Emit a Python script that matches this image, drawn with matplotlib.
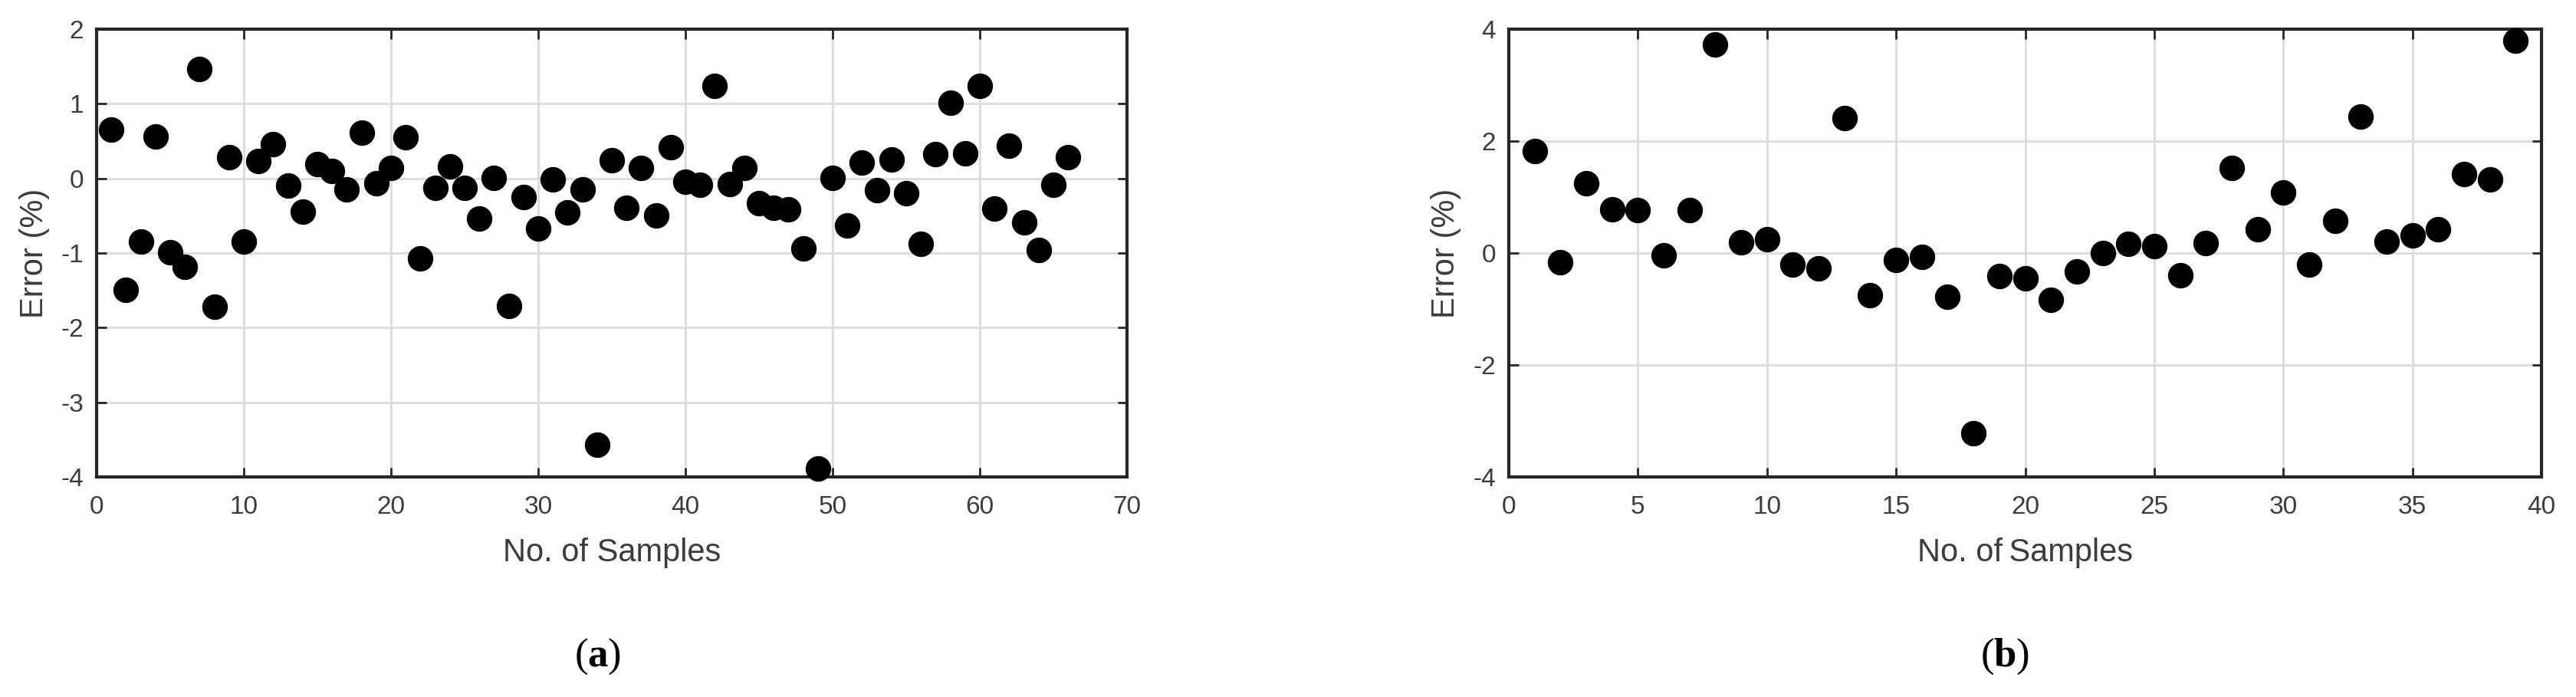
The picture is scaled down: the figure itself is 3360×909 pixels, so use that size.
import matplotlib
matplotlib.use("Agg")
import matplotlib.pyplot as plt

plt.rcParams["axes.unicode_minus"] = False
plt.rcParams["mathtext.fontset"] = "custom"
plt.rcParams["mathtext.bf"] = "Liberation Serif:bold"
plt.rcParams["mathtext.rm"] = "Liberation Serif"

# ---- data ----
samples_a = list(range(1, 67))
error_a = [0.65, -1.49, -0.85, 0.56, -0.99, -1.19, 1.47, -1.72, 0.28, -0.85,
           0.23, 0.46, -0.10, -0.45, 0.19, 0.10, -0.15, 0.61, -0.07, 0.14,
           0.55, -1.07, -0.13, 0.16, -0.13, -0.54, 0.01, -1.71, -0.25, -0.67,
           -0.01, -0.46, -0.15, -3.57, 0.24, -0.39, 0.14, -0.50, 0.42, -0.04,
           -0.09, 1.24, -0.08, 0.14, -0.33, -0.39, -0.41, -0.94, -3.89, 0.01,
           -0.63, 0.21, -0.16, 0.25, -0.20, -0.88, 0.33, 1.01, 0.34, 1.24,
           -0.40, 0.44, -0.59, -0.96, -0.09, 0.28]

samples_b = list(range(1, 40))
error_b = [1.82, -0.17, 1.24, 0.78, 0.77, -0.04, 0.77, 3.73, 0.19, 0.24,
           -0.21, -0.28, 2.41, -0.76, -0.12, -0.07, -0.78, -3.22, -0.41, -0.45,
           -0.84, -0.33, 0.00, 0.16, 0.12, -0.40, 0.18, 1.52, 0.43, 1.08,
           -0.21, 0.57, 2.44, 0.20, 0.32, 0.42, 1.41, 1.32, 3.79]

xticks_a = [0, 10, 20, 30, 40, 50, 60, 70]
yticks_a = [-4, -3, -2, -1, 0, 1, 2]
xticks_b = [0, 5, 10, 15, 20, 25, 30, 35, 40]
yticks_b = [-4, -2, 0, 2, 4]

xlabel_a = "No. of Samples"
xlabel_b = "No. of\u2009Samples"
ylabel = "Error (%)"
panel_labels = ["a", "b"]

# ---- figure ----
W, H = 3360, 909
fig = plt.figure(figsize=(W / 100, H / 100), dpi=100)
fig.patch.set_facecolor("white")

txt_col = "#3c3c3c"
tick_fs = 24
label_fs = 30
sans = ["Liberation Sans", "DejaVu Sans"]

def setup(ax, xs, ys, xt, yt, xlab, ylab_x):
    ax.plot(xs, ys, linestyle="none", marker="o", markersize=23,
            color="black", markeredgecolor="black", zorder=3, clip_on=False)
    ax.set_xlim(xt[0], xt[-1])
    ax.set_ylim(yt[0], yt[-1])
    ax.set_xticks(xt)
    ax.set_yticks(yt)
    ax.grid(True, color="#dcdcdc", linewidth=2.0, zorder=0)
    ax.set_axisbelow(True)
    ax.tick_params(direction="in", length=9, width=2, top=True, right=True,
                   labelsize=tick_fs, labelcolor=txt_col, color="#262626")
    ax.tick_params(axis="x", pad=17)
    ax.tick_params(axis="y", pad=12)
    for s in ax.spines.values():
        s.set_linewidth(3)
        s.set_color("#262626")
    ax.set_xlabel(xlab, fontsize=label_fs, color=txt_col, family=sans)
    ax.set_ylabel(ylabel, fontsize=label_fs, color=txt_col, family=sans)
    ax.xaxis.set_label_coords(0.5, -0.135)
    ax.yaxis.set_label_coords(ylab_x, 0.5)
    ax.yaxis.label.set_verticalalignment("center")
    for lab in ax.get_xticklabels() + ax.get_yticklabels():
        lab.set_family(sans)

ax1 = fig.add_axes([126 / W, 1 - 622 / H, (1470 - 126) / W, (622 - 38) / H])
setup(ax1, samples_a, error_a, xticks_a, yticks_a, xlabel_a, -0.060)

ax2 = fig.add_axes([1968 / W, 1 - 622 / H, (3315 - 1968) / W, (622 - 38) / H])
setup(ax2, samples_b, error_b, xticks_b, yticks_b, xlabel_b, -0.061)

for xc, lab in zip([780 / W, 2615 / W], panel_labels):
    fig.text(xc, 1 - 856 / H, "(" + r"$\mathbf{" + lab + "}$" + ")",
             ha="center", va="center", fontsize=38,
             family=["Liberation Serif", "DejaVu Serif"], color="black")

fig.savefig("out.png", dpi=100, facecolor="white")
